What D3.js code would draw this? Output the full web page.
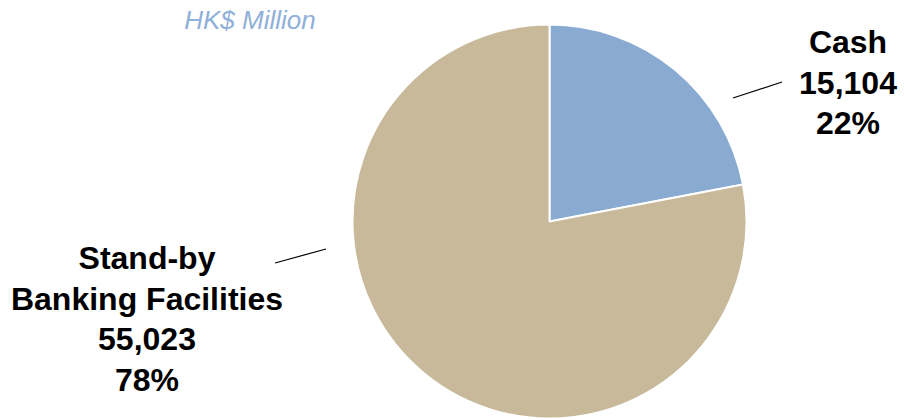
<!DOCTYPE html>
<html><head><meta charset="utf-8">
<script src="https://cdn.jsdelivr.net/npm/d3@7"></script>
<style>body{margin:0;background:#fff}svg{display:block}</style>
</head><body>
<svg id="chart" width="904" height="420"></svg>
<script>
// data
const categories = ["Cash", "Stand-by Banking Facilities"];
const labelLines = [["Cash"], ["Stand-by", "Banking Facilities"]];
const amounts = [15104, 55023];
const percents = [22, 78];
const unitLabel = "HK$ Million";

const W = 904, H = 420;
const cx = 549.5, cy = 221.5, R = 197;
const colors = ["#89abd2", "#c8b99b"];
const svg = d3.select("#chart");

const pie = d3.pie().sort(null).value(d => d.pct);
const arc = d3.arc().innerRadius(0).outerRadius(R);
const data = categories.map((c, i) => ({ name: c, amt: amounts[i], pct: percents[i], i }));
const arcs = pie(data);

const g = svg.append("g").attr("transform", `translate(${cx},${cy})`);
g.selectAll("path").data(arcs).join("path")
  .attr("d", arc)
  .attr("fill", d => colors[d.data.i])
  .attr("stroke", "#fff").attr("stroke-width", 2).attr("stroke-linejoin", "round");

svg.append("text").attr("x", 250).attr("y", 29)
  .attr("text-anchor", "middle")
  .attr("font-family", "'Liberation Sans', Arial, sans-serif")
  .attr("font-style", "italic").attr("font-size", 26)
  .attr("fill", "#8fb0d8").text(unitLabel);

const fmt = d3.format(",");
const labelPos = [{ x: 848, y: 53 }, { x: 147, y: 269 }];
const lineH = 40.5;
arcs.forEach((a, k) => {
  const d = a.data;
  const lines = labelLines[d.i].concat([fmt(d.amt), d.pct + "%"]);
  const t = svg.append("text")
    .attr("text-anchor", "middle")
    .attr("font-family", "'Liberation Sans', Arial, sans-serif")
    .attr("font-weight", "bold").attr("font-size", 32).attr("fill", "#000");
  lines.forEach((s, j) => {
    t.append("tspan").attr("x", labelPos[k].x).attr("y", labelPos[k].y + j * lineH).text(s);
  });
});

// leader lines
const leaders = [[[733, 98], [782, 82]], [[275, 263], [326, 249]]];
leaders.forEach(l => {
  svg.append("line")
    .attr("x1", l[0][0]).attr("y1", l[0][1]).attr("x2", l[1][0]).attr("y2", l[1][1])
    .attr("stroke", "#000").attr("stroke-width", 1.2);
});
</script>
</body></html>
